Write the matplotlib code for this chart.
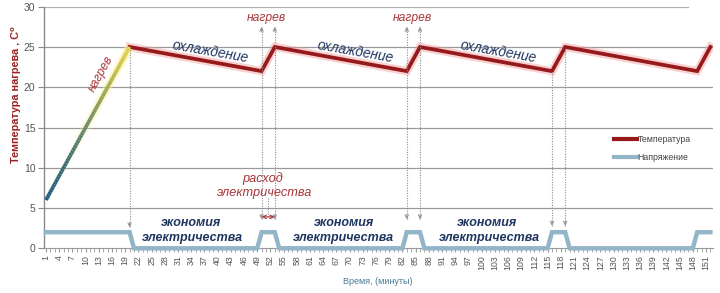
import numpy as np
import matplotlib
matplotlib.use('Agg')
import matplotlib.pyplot as plt
from matplotlib.collections import LineCollection
from matplotlib.colors import LinearSegmentedColormap

plt.rcParams['font.family'] = ['Liberation Sans', 'DejaVu Sans']

# ---- data ----
minutes = list(range(1, 153))
tick_positions = minutes[::3]
tick_labels = [str(m) for m in tick_positions]

temp_x = [1, 20, 50, 53, 83, 86, 116, 119, 149, 152]
temp_y = [6, 25, 22, 25, 22, 25, 22, 25, 22, 25]
volt_x = [1, 20, 21, 49, 50, 53, 54, 82, 83, 86, 87, 115, 116, 119, 120, 148, 149, 152]
volt_y = [2, 2, 0, 0, 2, 2, 0, 0, 2, 2, 0, 0, 2, 2, 0, 0, 2, 2]

series_names = ['Температура', 'Напряжение']

W, H = 720, 293
fig = plt.figure(figsize=(W / 100, H / 100), dpi=100)
ax_l, ax_r, ax_t, ax_b = 43.8, 712.6, 6.7, 248.3
ax = fig.add_axes([ax_l / W, 1 - ax_b / H, (ax_r - ax_l) / W, (ax_b - ax_t) / H])
ax.set_xlim(0.5, 152.5)
ax.set_ylim(0, 30)

# grid
grid_c = '#9a9a9a'
for yv in range(5, 30, 5):
    ax.axhline(yv, color=grid_c, lw=0.9, zorder=0)
ax.axhline(30, xmax=(688 - ax_l) / (ax_r - ax_l), color='#b0b0b0', lw=1.6, zorder=0)

# voltage line
volt_c = '#93b5c8'
ax.plot(volt_x, volt_y, color=volt_c, lw=3.2, solid_joinstyle='miter', zorder=3, clip_on=False)

# temperature: glow + main line (after the ramp)
temp_c = '#961a1c'
ax.plot(temp_x[1:], temp_y[1:], color='#f29a9a', lw=6, alpha=0.45, zorder=3, solid_joinstyle='miter')
ax.plot(temp_x[1:], temp_y[1:], color=temp_c, lw=2.7, zorder=4, solid_joinstyle='miter')

# ramp with gradient
cmap = LinearSegmentedColormap.from_list('ramp', ['#1f5a7c', '#3f6e78', '#6f8c68', '#a9ad55', '#e3d24c'])
n = 60
rx = np.linspace(temp_x[0], temp_x[1], n)
ry = np.linspace(temp_y[0], temp_y[1], n)
pts = np.column_stack([rx, ry]).reshape(-1, 1, 2)
segs = np.concatenate([pts[:-1], pts[1:]], axis=1)
glow = LineCollection(segs, colors=[(1.0, 0.95, 0.55, a) for a in np.linspace(0.0, 0.6, n - 1)], linewidths=6, zorder=3)
ax.add_collection(glow)
lc = LineCollection(segs, cmap=cmap, linewidths=2.7, zorder=4, capstyle='butt')
lc.set_array(np.linspace(0, 1, n - 1))
ax.add_collection(lc)

# legend proxies
ax.plot([], [], color=temp_c, lw=3, label=series_names[0])
ax.plot([], [], color=volt_c, lw=3, label=series_names[1])
leg = ax.legend(loc='center left', bbox_to_anchor=((606 - ax_l) / (ax_r - ax_l), (ax_b - 148.5) / (ax_b - ax_t)),
                frameon=False, fontsize=6.3, handlelength=2.6, handletextpad=0.1, labelspacing=1.0,
                labelcolor='#444444')

# axes styling
for s in ['top', 'right']:
    ax.spines[s].set_visible(False)
ax.spines['left'].set_color('#8a8a8a')
ax.spines['left'].set_linewidth(1.0)
ax.spines['bottom'].set_color('#9a9a9a')
ax.set_yticks(range(0, 31, 5))
ax.tick_params(axis='y', length=4, color='#8a8a8a', labelsize=7.5, labelcolor='#555555', pad=2)
ax.set_xticks(tick_positions)
ax.set_xticklabels(tick_labels, rotation=90, fontsize=6.3, color='#555555')
ax.set_xticks(minutes, minor=True)
ax.tick_params(axis='x', which='both', length=3, color='#9a9a9a', pad=2)

# axis labels
fig.text(16 / W, 1 - 95 / H, 'Температура нагрева , C⁰', rotation=90, ha='center', va='center',
         fontsize=7.8, color='#9a2222', fontweight='bold')
fig.text(378 / W, 1 - 281 / H, 'Время, (минуты)', ha='center', va='center', fontsize=6.5,
         color='#4a7896')

# vertical dotted arrows
arrow_c = '#8c8c8c'
def vdot(x, y0, y1, head_top=False, head_bottom=False):
    ax.vlines(x, y0, y1, colors=arrow_c, linestyles=(0, (1, 1.3)), lw=0.8, zorder=5)
    if head_top:
        ax.annotate('', xy=(x, y1), xytext=(x, y1 - 0.6),
                    arrowprops=dict(arrowstyle='->', color=arrow_c, lw=0.7, shrinkA=0, shrinkB=0,
                                    mutation_scale=6), zorder=5)
    if head_bottom:
        ax.annotate('', xy=(x, y0), xytext=(x, y0 + 0.6),
                    arrowprops=dict(arrowstyle='->', color=arrow_c, lw=0.7, shrinkA=0, shrinkB=0,
                                    mutation_scale=6), zorder=5)

vdot(temp_x[1], 2.6, temp_y[1], head_bottom=True)
for xi in (temp_x[2], temp_x[3], temp_x[4], temp_x[5]):
    vdot(xi, 3.6, 27.5, head_top=True, head_bottom=True)
for i in (6, 7):
    vdot(temp_x[i], 2.8, temp_y[i], head_bottom=True)

# consumption double arrow
ax.annotate('', xy=(temp_x[2], 3.9), xytext=(temp_x[3], 3.9),
            arrowprops=dict(arrowstyle='<->', color='#b04040', lw=0.9, shrinkA=0, shrinkB=0,
                            mutation_scale=6), zorder=6)
ax.vlines((temp_x[2] + temp_x[3]) / 2, 3.9, 6.2, colors=arrow_c, linestyles=(0, (1, 1.3)), lw=0.8, zorder=5)

# annotations
red_t = '#a8353a'
blue_t = '#1f3560'
ax.text(13.6, 21.6, 'нагрев', rotation=61, ha='center', va='center', fontsize=8.7, style='italic',
        color=red_t, zorder=7)
for cx in (38.3, 71.2, 103.7):
    ax.text(cx, 24.4, 'охлаждение', rotation=-10, ha='center', va='center', fontsize=9.9,
            style='italic', color=blue_t, zorder=7)
for cx in (51.0, 84.3):
    ax.text(cx, 28.6, 'нагрев', ha='center', va='center', fontsize=8.7, style='italic', color=red_t,
            zorder=7)
ax.text(50.3, 8.7, 'расход', ha='center', va='center', fontsize=9.2, style='italic', color=red_t, zorder=7)
ax.text(50.8, 6.9, 'электричества', ha='center', va='center', fontsize=9.2, style='italic', color=red_t,
        zorder=7)
for cx1, cx2 in ((34.0, 34.4), (68.7, 68.7), (101.2, 101.7)):
    ax.text(cx1, 3.2, 'экономия', ha='center', va='center', fontsize=9, style='italic',
            fontweight='bold', color=blue_t, zorder=7)
    ax.text(cx2, 1.3, 'электричества', ha='center', va='center', fontsize=9, style='italic',
            fontweight='bold', color=blue_t, zorder=7)

fig.savefig('out.png', dpi=100)
